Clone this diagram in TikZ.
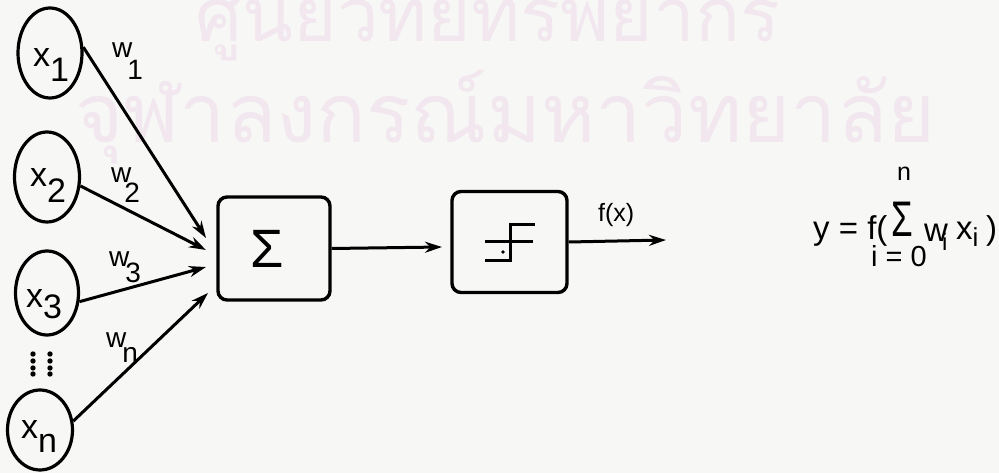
\documentclass[tikz,border=0pt]{standalone}
\usepackage{fontspec}
\setmainfont{Liberation Sans}
\newfontfamily\thaifont[Script=Thai]{Loma}
\usetikzlibrary{shapes.geometric,arrows.meta}
\definecolor{wm}{RGB}{242,231,239}
\definecolor{paper}{RGB}{247,247,246}
\begin{document}
\begin{tikzpicture}[x=1pt,y=-1pt,
  inp/.style={ellipse,draw,line width=3.2pt,inner sep=0pt},
  blk/.style={draw,line width=3.4pt,rounded corners=9pt,inner sep=0pt},
  conn/.style={line width=3pt,-{Stealth[length=17pt,width=11pt]}},
  lbl/.style={inner sep=0pt,anchor=base west},
  xf/.style={font=\fontsize{34}{34}\selectfont},
  wf/.style={font=\fontsize{28}{28}\selectfont},
  ef/.style={font=\fontsize{33}{33}\selectfont},
  sf/.style={font=\fontsize{25}{25}\selectfont},
  dotm/.style={fill=black}]
\fill[paper] (0,0) rectangle (999,473);
\useasboundingbox (0,0) rectangle (999,473);
% watermark
\node[lbl,text=wm] (wm1) at (195,42) {\resizebox{585pt}{!}{\thaifont ศูนย์วิทยทรัพยากร}};
\node[lbl,text=wm] (wm2) at (75,143) {\resizebox{860pt}{!}{\thaifont จุฬาลงกรณ์มหาวิทยาลัย}};
% inputs
\node[inp,minimum width=64pt,minimum height=90pt] (x1) at (50,53) {};
\node[inp,minimum width=65pt,minimum height=90pt] (x2) at (47,177) {};
\node[inp,minimum width=63pt,minimum height=84pt] (x3) at (47,293) {};
\node[inp,minimum width=65pt,minimum height=80pt] (xn) at (40,430) {};
\node[lbl,xf] (lx1) at (33,67) {x\raisebox{-15pt}{1}};
\node[lbl,xf] (lx2) at (30,187) {x\raisebox{-16pt}{2}};
\node[lbl,xf] (lx3) at (26,308) {x\raisebox{-10pt}{3}};
\node[lbl,xf] (lxn) at (21,438) {x\raisebox{-14pt}{n}};
% vertical dots
\foreach \yy in {354,361,368,374}{
  \fill[dotm] (33,\yy) circle (2.7pt);
  \fill[dotm] (50,\yy) circle (2.7pt);
}
% weights
\node[lbl,wf] (w1) at (112,58) {w\hspace{-5pt}\raisebox{-22pt}{1}};
\node[lbl,wf] (w2) at (111,183) {w\hspace{-7pt}\raisebox{-20pt}{2}};
\node[lbl,wf] (w3) at (109,267) {w\hspace{-4pt}\raisebox{-16pt}{3}};
\node[lbl,wf] (wn) at (106,347) {w\hspace{-4pt}\raisebox{-15pt}{n}};
% blocks
\node[blk,minimum width=112pt,minimum height=103pt] (sum) at (274,248.5) {};
\node[lbl,anchor=base,font=\fontsize{54}{54}\selectfont] (sig) at (267,268) {Σ};
\node[blk,minimum width=115pt,minimum height=101pt] (step) at (509.5,242) {};
\draw[line width=3pt] (485,261) -- (510,261) -- (510,225) -- (535,225);
\draw[line width=3pt] (485,242) -- (533,242);
\fill (503,252) circle (1.8pt);
% connectors
\coordinate (t1) at (206,238);
\coordinate (t2) at (206,250);
\coordinate (t3) at (206,267);
\coordinate (tn) at (208,293);
\coordinate (t5) at (442,247);
\coordinate (t6) at (666,240);
\draw[conn] (x1.10) -- (t1);
\draw[conn] (x2.-15) -- (t2);
\draw[conn] (x3.-15) -- (t3);
\draw[conn] (xn.15) -- (tn);
\draw[conn] (sum.east) -- (t5);
\draw[conn] (step.east) -- (t6);
\node[lbl,sf] (fx) at (598,222) {f(x)};
% equation
\node[lbl,ef] (e1) at (813,240) {y = f(};
\node[lbl,anchor=base,font=\fontsize{50}{50}\selectfont] (esig) at (902,237) {\scalebox{0.7}[1]{Σ}};
\node[lbl,sf] (en) at (897,181) {n};
\node[lbl,ef] (ew) at (924,242) {w\hspace{-6pt}\raisebox{-9pt}{\fontsize{24}{24}\selectfont i}};
\node[lbl,ef] (ex) at (956,240) {x\raisebox{-7pt}{\fontsize{26}{26}\selectfont i}};
\node[lbl,ef] (ep) at (986,240) {)};
\node[lbl,font=\fontsize{29}{29}\selectfont] (ei) at (871,266) {i = 0};
\end{tikzpicture}
\end{document}
